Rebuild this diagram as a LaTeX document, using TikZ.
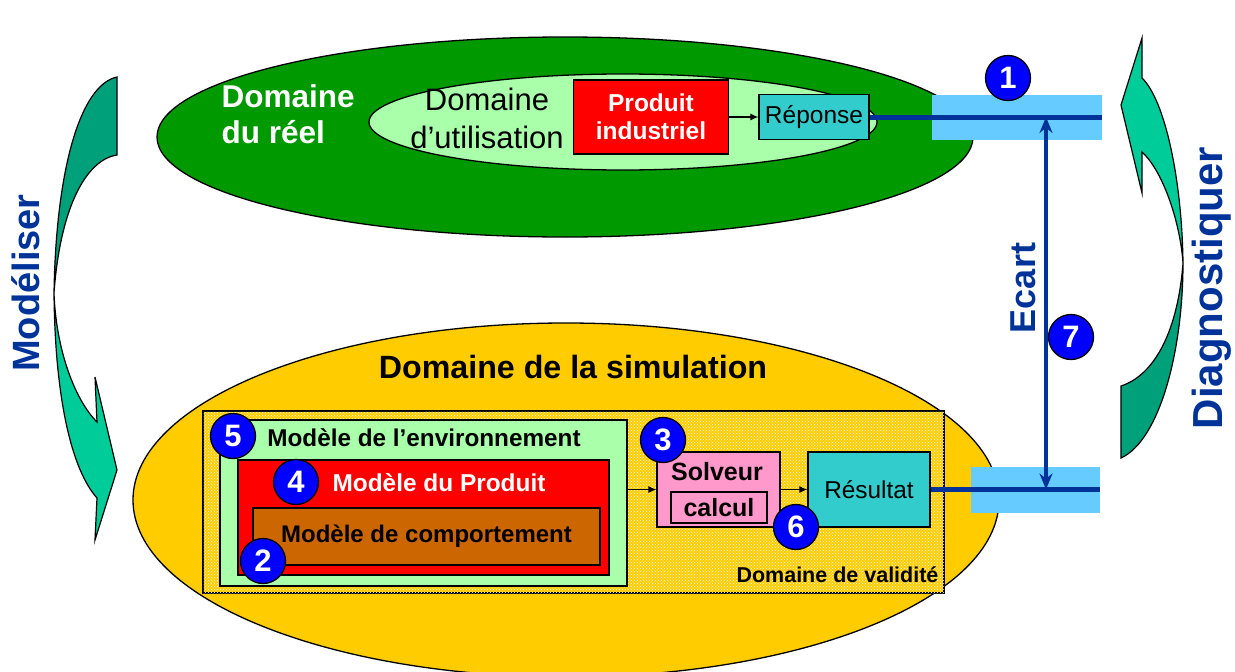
\documentclass[tikz,border=0pt]{standalone}
\usepackage{fontspec}
\setmainfont{Liberation Sans}
\usepackage{xcolor}
\usetikzlibrary{shapes.geometric, arrows.meta, positioning, calc, patterns}
\definecolor{reelgreen}{RGB}{0,153,0}
\definecolor{palegreen}{RGB}{170,255,170}
\definecolor{simyellow}{RGB}{255,204,0}
\definecolor{tealbox}{RGB}{51,204,204}
\definecolor{brownbox}{RGB}{204,102,0}
\definecolor{pinkbox}{RGB}{255,153,204}
\definecolor{barblue}{RGB}{102,204,255}
\definecolor{darkblue}{RGB}{0,51,153}
\definecolor{numblue}{RGB}{0,0,255}
\definecolor{lightarrow}{RGB}{0,204,153}
\definecolor{darkarrow}{RGB}{0,160,122}
\newcommand{\fsz}[2]{\fontsize{#1}{#2}\selectfont}

\begin{document}
\begin{tikzpicture}[
    x=1pt, y=-1pt,
    domain/.style={ellipse, draw=black, line width=1.3pt, fill=#1, inner sep=0pt},
    box/.style={rectangle, draw=black, line width=1.3pt, fill=#1, inner sep=0pt, align=center},
    numdot/.style={circle, draw=black, line width=1.3pt, fill=numblue, text=white,
                   minimum size=45pt, inner sep=0pt, font=\fsz{31}{31}\bfseries},
    bar/.style={rectangle, fill=barblue, inner sep=0pt},
    link/.style={-{Latex[length=8pt,width=7pt]}, line width=1.2pt},
    ecart/.style={line width=5pt, color=darkblue},
    verb/.style={rotate=90, text=darkblue, font=\fsz{#1}{#1}\bfseries},
    ribbon/.style={draw=black, line width=1.2pt, fill=#1}
]
\useasboundingbox (0,0) rectangle (1235,672);

% curved arrows on both sides
\path[ribbon=darkarrow] (117,77) .. controls (80,85) and (56,170) .. (54,293)
    .. controls (60,210) and (85,160) .. (117,155) -- cycle;
\path[ribbon=lightarrow] (54,293) .. controls (55,400) and (72,470) .. (97,498)
    -- (95,540) -- (117,470) -- (95,377) -- (97,422)
    .. controls (75,400) and (56,350) .. (54,293) -- cycle;
\path[ribbon=lightarrow] (1142,78) -- (1142,38) -- (1121,105) -- (1142,193) -- (1142,152)
    .. controls (1162,170) and (1180,220) .. (1183,263)
    .. controls (1182,180) and (1165,100) .. (1142,78) -- cycle;
\path[ribbon=darkarrow] (1183,263) .. controls (1183,350) and (1160,440) .. (1121,458)
    -- (1121,386) .. controls (1155,375) and (1178,330) .. (1183,263) -- cycle;
\node[verb=38] (modeliser) at (26,283) {Modéliser};
\node[verb=42] (diagnostiquer) at (1212,288) {Diagnostiquer};

% domaine du reel
\node[domain=reelgreen, minimum width=816pt, minimum height=200pt] (reel) at (565,137) {};
\node[domain=palegreen, minimum width=508pt, minimum height=96pt] (utilisation) at (623,122) {};
\node[anchor=west, align=left, text=white, font=\fsz{31.5}{36}\bfseries] (reeltxt) at (218,114)
    {Domaine\\du réel};
\node[align=center, font=\fsz{31}{38}] (utiltxt) at (487,118) {Domaine\\d’utilisation};
\node[box=red, minimum width=155pt, minimum height=74pt, text=white,
      font=\fsz{24.5}{28}\bfseries] (produit) at (651,117) {Produit\\industriel};
\node[box=tealbox, minimum width=110pt, minimum height=45pt, font=\fsz{24.5}{24.5}] (reponse)
    at (814,117) {Réponse};
\draw[link] (produit.east) -- (reponse.west);

% domaine de la simulation
\node[domain=simyellow, minimum width=866pt, minimum height=354pt] (simulation) at (566,500) {};
\node[font=\fsz{32.2}{32}\bfseries] (simtxt) at (573,367) {Domaine de la simulation};
\node[box=simyellow, minimum width=741pt, minimum height=182pt,
      postaction={pattern=crosshatch dots, pattern color=white}] (validite) at (573.5,502) {};
\node[anchor=base east, font=\fsz{21.5}{21.5}\bfseries, inner sep=0pt] (validtxt)
    at ($(validite.south east)+(-6,-11)$) {Domaine de validité};
\node[box=palegreen, minimum width=407pt, minimum height=166pt] (env) at (423.5,503) {};
\node[font=\fsz{24.3}{24}\bfseries] (envtxt) at (424,438) {Modèle de l’environnement};
\node[box=red, minimum width=371pt, minimum height=115pt] (modprod) at (423.5,517.5) {};
\node[text=white, font=\fsz{24.4}{24}\bfseries] (modprodtxt) at (439,483) {Modèle du Produit};
\node[box=brownbox, minimum width=347pt, minimum height=57pt, font=\fsz{24}{24}\bfseries]
    (comport) at (426.5,536.5) {Modèle de comportement};
\node[box=pinkbox, minimum width=123pt, minimum height=75pt] (solveur) at (718.5,489.5) {};
\node[font=\fsz{25}{25}\bfseries] (solvtxt) at (717,472) {Solveur};
\node[box=pinkbox, minimum width=96pt, minimum height=31pt, font=\fsz{25}{25}\bfseries]
    (calcul) at (719,507.5) {calcul};
\node[box=tealbox, minimum width=122pt, minimum height=75pt, font=\fsz{24.4}{24.4}] (resultat)
    at (869,489.5) {Résultat};
\draw[link] (solveur.west -| env.east) -- (solveur.west);
\draw[link] (solveur.east) -- (resultat.west);

% ecart entre reponse et resultat
\node[bar, minimum width=170pt, minimum height=45pt] (bar1) at (1017,117) {};
\node[bar, minimum width=129pt, minimum height=46pt] (bar2) at (1035.5,489.5) {};
\draw[ecart] (reponse.east) -- (bar1.east);
\draw[ecart] (resultat.east) -- (bar2.east);
\coordinate (ecarttop) at (1046,117);
\coordinate (ecartbot) at (1046,489.5);
\draw[{Stealth[length=16pt,width=13pt]}-{Stealth[length=16pt,width=13pt]}, line width=3.5pt,
      darkblue] (ecarttop) -- (ecartbot);
\node[verb=36] (ecarttxt) at (1023,288) {Ecart};

% numeros
\node[numdot] (n1) at (1008,78) {1};
\node[numdot] (n2) at (263,561) {2};
\node[numdot] (n3) at (663,440) {3};
\node[numdot] (n4) at (296,482) {4};
\node[numdot] (n5) at (233,436) {5};
\node[numdot] (n6) at (796,527) {6};
\node[numdot] (n7) at (1071,337) {7};
\end{tikzpicture}
\end{document}
